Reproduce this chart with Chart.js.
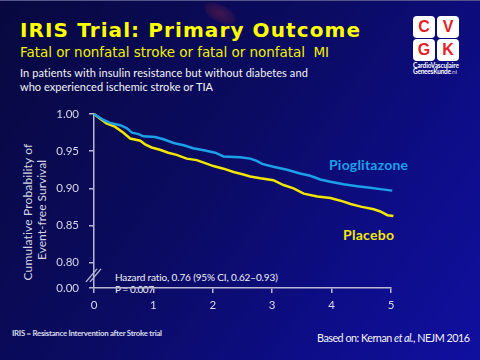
<!DOCTYPE html>
<html><head><meta charset="utf-8">
<script src="https://cdn.jsdelivr.net/npm/chart.js"></script>
<style>
html,body{margin:0;padding:0;}
body{width:480px;height:360px;overflow:hidden;position:relative;
 background:linear-gradient(125deg,#08083f 0%,#0b0b62 45%,#0d0d88 75%,#1010a0 100%);}
#c{position:absolute;left:0;top:0;z-index:3;}
.t{position:absolute;white-space:pre;z-index:1;}
.sq{position:absolute;background:#fff;border-radius:4px;z-index:1;width:22px;height:22px;
 color:#e3222a;font:bold 16px 'Liberation Sans',Arial,sans-serif;text-align:center;line-height:22px;}
#blob{position:absolute;left:203px;top:5px;width:34px;height:17px;border-radius:50%;z-index:0;
 background:radial-gradient(ellipse at center,rgba(110,30,70,0.55) 0%,rgba(90,25,70,0.35) 55%,rgba(60,20,70,0) 100%);
 transform:rotate(28deg);}
#topline{position:absolute;left:0;top:0;width:480px;height:1px;background:#55558a;z-index:1;}
</style></head>
<body>
<div id="topline"></div>
<div id="blob"></div>
<div class="sq" style="left:413px;top:16px;">C</div>
<div class="sq" style="left:437px;top:16px;">V</div>
<div class="sq" style="left:413px;top:39px;">G</div>
<div class="sq" style="left:437px;top:39px;">K</div>
<canvas id="c" width="480" height="360"></canvas>
<script>
// ---- data ----
const pioTime = [0, 0.16, 0.27, 0.44, 0.55, 0.64, 0.75, 0.83, 1.03, 1.17, 1.34, 1.51, 1.67, 1.87, 2.04, 2.18, 2.46, 2.63, 2.74, 2.83, 3.02, 3.25, 3.47, 3.64, 3.81, 3.98, 4.20, 4.43, 4.65, 4.82, 5.02, 5.04];
const pioSurv = [1.000, 0.992, 0.988, 0.985, 0.981, 0.975, 0.973, 0.970, 0.969, 0.966, 0.961, 0.958, 0.954, 0.951, 0.948, 0.943, 0.942, 0.940, 0.937, 0.933, 0.929, 0.925, 0.920, 0.917, 0.912, 0.909, 0.9055, 0.903, 0.901, 0.899, 0.897, 0.893];
const plaTime = [0, 0.10, 0.21, 0.35, 0.49, 0.61, 0.78, 0.86, 0.97, 1.11, 1.25, 1.39, 1.56, 1.73, 1.87, 2.01, 2.18, 2.35, 2.50, 2.63, 2.80, 3.02, 3.19, 3.36, 3.53, 3.76, 3.98, 4.15, 4.32, 4.49, 4.71, 4.82, 4.94, 5.04];
const plaSurv = [1.000, 0.994, 0.9875, 0.983, 0.975, 0.967, 0.964, 0.959, 0.955, 0.952, 0.948, 0.945, 0.940, 0.938, 0.934, 0.930, 0.9265, 0.922, 0.919, 0.916, 0.9135, 0.911, 0.9045, 0.900, 0.893, 0.889, 0.887, 0.8835, 0.879, 0.8755, 0.872, 0.869, 0.864, 0.863];
const seriesNames = ['Pioglitazone', 'Placebo'];
const xTickValues = [0, 1, 2, 3, 4, 5];
const yTickValues = [0.80, 0.85, 0.90, 0.95, 1.00];
const yTickLabels = ['0.80', '0.85', '0.90', '0.95', '1.00'];
const yBreakLabel = '0.00';
const Y_MIN = 0.7661;   // axis break: bottom of the axis stands for 0.00

// ---- text helpers ----
const mctx = document.createElement('canvas').getContext('2d');
function fontStr(o){ return (o.style||'') + ' ' + (o.weight||'normal') + ' ' + o.size + 'px ' + o.family; }
function addText(o){
  const el = document.createElement('div');
  el.className = 't';
  if (o.html) el.innerHTML = o.html; else el.textContent = o.text;
  el.style.font = fontStr(o);
  el.style.lineHeight = o.size + 'px';
  el.style.color = o.color;
  document.body.appendChild(el);
  if (o.w){
    const w = el.getBoundingClientRect().width;
    const n = [...el.textContent].length;
    el.style.letterSpacing = ((o.w - w) / (n - 1)) + 'px';
  }
  mctx.font = fontStr(o);
  const m = mctx.measureText('Hg');
  const asc = m.fontBoundingBoxAscent, desc = m.fontBoundingBoxDescent;
  const off = (o.size - (asc + desc)) / 2 + asc;
  if (o.rotate){
    const w = el.offsetWidth;
    el.style.left = (o.cx - w / 2) + 'px';
    el.style.top = (o.cy - o.size / 2) + 'px';
    el.style.transform = 'rotate(-90deg)';
    el.style.transformOrigin = '50% 50%';
  } else {
    el.style.left = o.x + 'px';
    el.style.top = (o.y - off) + 'px';
  }
  return el;
}
const LATO = "Lato, 'Open Sans', sans-serif";
const DV = "'DejaVu Sans', Verdana, sans-serif";
addText({text:'IRIS Trial: Primary Outcome', x:20, y:37, size:20, weight:'bold', family:DV, color:'#ffff00', w:340});
addText({text:'Fatal or nonfatal stroke or fatal or nonfatal  MI', x:20, y:57.3, size:13.5, family:DV, color:'#f2f200', w:309});
addText({text:'In patients with insulin resistance but without diabetes and', x:20, y:76.5, size:11, family:LATO, color:'#f4f4f4', w:288});
addText({text:'who experienced ischemic stroke or TIA', x:20, y:91, size:11, family:LATO, color:'#f4f4f4', w:193});
addText({text:'CardioVasculaire', x:413, y:68.5, size:6.5, weight:'bold', family:LATO, color:'#ffffff', w:46});
addText({html:'GeneesKunde<span style="font-weight:normal;color:#c8c8e0">.nl</span>', x:413, y:74.8, size:6.5, weight:'bold', family:LATO, color:'#ffffff', w:44});
addText({text:'Cumulative Probability of', cx:28, cy:211.5, rotate:true, size:12, family:LATO, color:'#d6d6e6', w:137});
addText({text:'Event-free Survival', cx:41.5, cy:210, rotate:true, size:12, family:LATO, color:'#d6d6e6', w:100});
addText({text:seriesNames[0], x:329, y:170.5, size:14, weight:'bold', family:LATO, color:'#1ca0e8', w:79});
addText({text:seriesNames[1], x:343, y:240, size:14, weight:'bold', family:LATO, color:'#f5ea00', w:51});
addText({text:'Hazard ratio, 0.76 (95% CI, 0.62\u20130.93)', x:115, y:281, size:10, family:LATO, color:'#f0f0f4', w:163});
addText({text:'P = 0.007', x:115, y:292.5, size:10, family:LATO, color:'#f0f0f4', w:39});
addText({text:'IRIS = Resistance Intervention after Stroke trial', x:12, y:336.5, size:7.8, weight:'bold', family:LATO, color:'#dcdcec', w:150});
addText({html:'Based on: Kernan <i>et al.</i>, NEJM 2016', x:317, y:343, size:10.8, family:LATO, color:'#f4f4f8', w:153});

// ---- chart ----
const AXIS = '#b8b8d2';
const TICKC = '#d8d8e8';
const breakPlugin = {
  id: 'axisBreak',
  afterDraw(chart){
    const y = chart.scales.y, ctx = chart.ctx;
    const x0 = chart.chartArea.left;
    const y0 = y.getPixelForValue((Y_MIN + yTickValues[0]) / 2);
    ctx.save();
    ctx.strokeStyle = AXIS; ctx.lineWidth = 1.4;
    [-2.5, 1.5].forEach(off => {
      ctx.beginPath();
      ctx.moveTo(x0 + off - 5.5, y0 + 6.5);
      ctx.lineTo(x0 + off + 5.5, y0 - 6.5);
      ctx.stroke();
    });
    ctx.restore();
  }
};
new Chart(document.getElementById('c'), {
  type: 'line',
  data: {
    datasets: [
      {label: seriesNames[0], data: pioTime.map((t, i) => ({x: t, y: pioSurv[i]})),
       borderColor: '#1ca0e8', borderWidth: 2.5, pointRadius: 0, tension: 0, clip: false},
      {label: seriesNames[1], data: plaTime.map((t, i) => ({x: t, y: plaSurv[i]})),
       borderColor: '#f2e600', borderWidth: 2.5, pointRadius: 0, tension: 0, clip: false}
    ]
  },
  options: {
    responsive: false, animation: false, devicePixelRatio: 1,
    layout: {padding: {left: 0, right: 89, top: 114, bottom: 0}},
    plugins: {legend: {display: false}, tooltip: {enabled: false}},
    scales: {
      x: {
        type: 'linear', min: 0, max: 5,
        afterBuildTicks: a => { a.ticks = xTickValues.map(v => ({value: v})); },
        ticks: {color: TICKC, font: {family: 'Lato', size: 11.5}, padding: 5, callback: v => String(v)},
        grid: {drawOnChartArea: false, drawTicks: true, tickLength: 5, color: AXIS, lineWidth: 1.5},
        border: {display: true, color: AXIS, width: 1.5},
        afterFit: a => { a.height = 72; }
      },
      y: {
        type: 'linear', min: Y_MIN, max: 1.0,
        afterBuildTicks: a => { a.ticks = [{value: Y_MIN}].concat(yTickValues.map(v => ({value: v}))); },
        ticks: {color: TICKC, font: {family: 'Lato', size: 11.5}, padding: 10,
                callback: (v, i) => i === 0 ? yBreakLabel : yTickLabels[i - 1]},
        grid: {drawOnChartArea: false, drawTicks: true, tickLength: 5, color: AXIS, lineWidth: 1.5},
        border: {display: true, color: AXIS, width: 1.5},
        afterFit: a => { a.width = 94; }
      }
    }
  },
  plugins: [breakPlugin]
});
</script>
</body></html>
